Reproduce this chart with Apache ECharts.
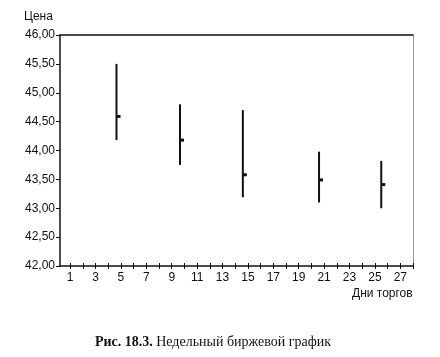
<!DOCTYPE html>
<html>
<head>
<meta charset="utf-8">
<script src="https://cdn.jsdelivr.net/npm/echarts@6/dist/echarts.min.js"></script>
<style>
html,body{margin:0;padding:0;background:#fff;}
#c{width:440px;height:357px;}
</style>
</head>
<body>
<div id="c"></div>
<script>
var days = [4.65, 9.65, 14.6, 20.6, 25.5];
var highs = [45.50, 44.80, 44.70, 43.98, 43.82];
var lows = [44.18, 43.75, 43.19, 43.10, 43.00];
var closes = [44.59, 44.18, 43.58, 43.49, 43.41];
var xTickValues = [1,2,3,4,5,6,7,8,9,10,11,12,13,14,15,16,17,18,19,20,21,22,23,24,25,26,27,28];
var xLabelValues = [1,3,5,7,9,11,13,15,17,19,21,23,25,27];
var yTitle = 'Цена';
var xTitle = 'Дни торгов';

var data = days.map(function(d, i){ return [d, highs[i], lows[i], closes[i]]; });

var chart = echarts.init(document.getElementById('c'), null, {renderer:'canvas'});
var font = 'Liberation Sans, Arial, sans-serif';
chart.setOption({
  animation:false,
  backgroundColor:'#fff',
  grid:{left:60, right:27, top:35, bottom:91},
  graphic:[
    {type:'text', left:24, top:11, style:{text:yTitle, font:'12px ' + font, fill:'#111'}},
    {type:'text', left:352, top:288, style:{text:xTitle, font:'12px ' + font, fill:'#111'}},
    {type:'text', left:95, top:335, style:{
      text:'{b|Рис. 18.3.} {n|Недельный биржевой график}',
      rich:{
        b:{font:'bold 14px Liberation Serif, Times New Roman, serif', fill:'#111'},
        n:{font:'14px Liberation Serif, Times New Roman, serif', fill:'#111'}
      }
    }}
  ],
  xAxis:[
    {type:'value', min:0.2, max:28, position:'bottom',
     splitLine:{show:false},
     axisLine:{show:true, lineStyle:{color:'#111', width:1.5}},
     axisTick:{show:true, inside:false, length:3, customValues:xTickValues, lineStyle:{color:'#111'}},
     axisLabel:{show:true, customValues:xLabelValues, margin:6, color:'#111', fontSize:12, fontFamily:font}
    },
    {type:'value', min:0.2, max:28, position:'bottom',
     splitLine:{show:false},
     axisLine:{show:false},
     axisTick:{show:true, inside:true, length:3, customValues:xTickValues, lineStyle:{color:'#111'}},
     axisLabel:{show:false}
    },
    {type:'value', min:0.2, max:28, position:'top',
     splitLine:{show:false},
     axisLine:{show:true, lineStyle:{color:'#111', width:1.5}},
     axisTick:{show:false}, axisLabel:{show:false}
    }
  ],
  yAxis:[
    {type:'value', min:42, max:46, interval:0.5, position:'left',
     splitLine:{show:false},
     axisLine:{show:true, lineStyle:{color:'#111', width:1.5}},
     axisTick:{show:true, inside:false, length:4, lineStyle:{color:'#111'}},
     axisLabel:{color:'#111', fontSize:12, fontFamily:font, margin:5,
       formatter:function(v){ return v.toFixed(2).replace('.', ','); }}
    },
    {type:'value', min:42, max:46, interval:0.5, position:'right',
     splitLine:{show:false},
     axisLine:{show:true, lineStyle:{color:'#999', width:1}},
     axisTick:{show:false}, axisLabel:{show:false}
    }
  ],
  series:[{
    type:'custom',
    xAxisIndex:0, yAxisIndex:0,
    data:data,
    renderItem:function(params, api){
      var x = api.value(0);
      var top = api.coord([x, api.value(1)]);
      var bot = api.coord([x, api.value(2)]);
      var cl = api.coord([x, api.value(3)]);
      return {type:'group', children:[
        {type:'line', shape:{x1:top[0], y1:top[1], x2:bot[0], y2:bot[1]},
         style:{stroke:'#111', lineWidth:2}},
        {type:'rect', shape:{x:cl[0], y:cl[1]-1.5, width:4, height:3},
         style:{fill:'#111'}}
      ]};
    }
  }]
});
</script>
</body>
</html>
